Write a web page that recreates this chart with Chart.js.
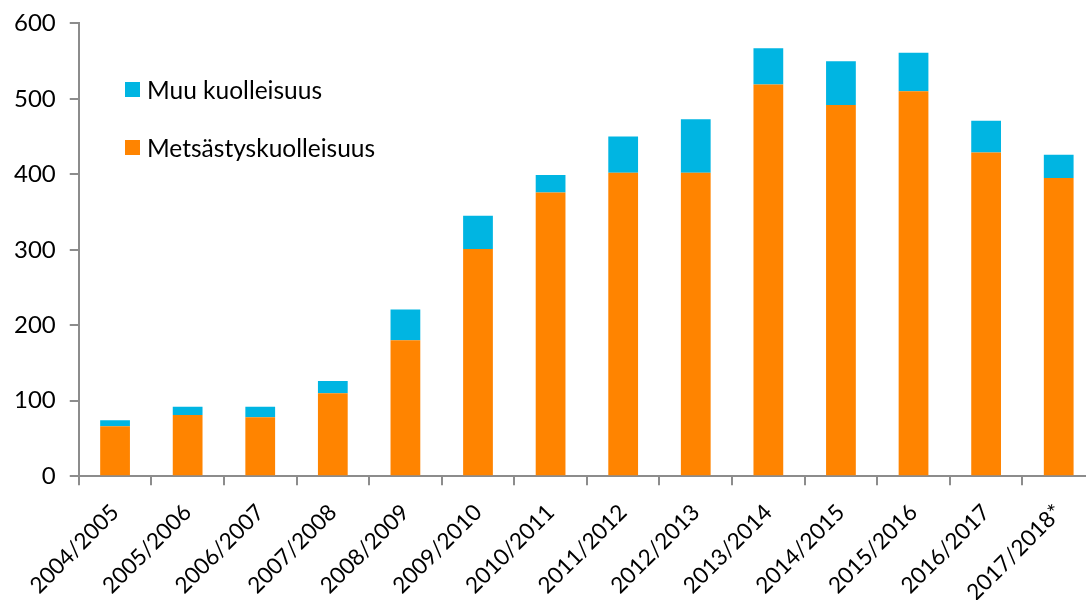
<!DOCTYPE html>
<html>
<head>
<meta charset="utf-8">
<script src="https://cdn.jsdelivr.net/npm/chart.js@4.4.1/dist/chart.umd.min.js"></script>
<style>
  html, body { margin: 0; padding: 0; background: #fff; overflow: hidden; width: 1086px; height: 600px; }
  #wrap { position: relative; top: -5px; width: 1100px; height: 625px; }
  #legend { position: absolute; left: 125px; top: 80px; font-family: Lato, "Open Sans", sans-serif; font-size: 24.5px; color: #000; }
  .item { display: flex; align-items: center; height: 29px; margin-bottom: 29px; }
  .sw { width: 15px; height: 15px; margin-right: 7px; }
</style>
</head>
<body>
<div id="wrap">
  <canvas id="c" width="1100" height="625"></canvas>
  <div id="legend"></div>
</div>
<script>
const categories = ["2004/2005","2005/2006","2006/2007","2007/2008","2008/2009","2009/2010","2010/2011","2011/2012","2012/2013","2013/2014","2014/2015","2015/2016","2016/2017","2017/2018*"];
const metsastys = [66, 81, 78, 110, 180, 301, 376, 402, 402, 519, 492, 510, 429, 395];
const totals = [74, 92, 92, 126, 221, 345, 399, 450, 473, 567, 550, 561, 471, 426];
const muu = totals.map((t, i) => t - metsastys[i]);
const yTicks = [0, 100, 200, 300, 400, 500, 600];

const ORANGE = "#FF8400";
const BLUE = "#00B5E2";
const AXIS = "#8c8c8c";
const FONT = "Lato, 'Open Sans', sans-serif";

const chart = new Chart(document.getElementById("c"), {
  type: "bar",
  data: {
    labels: categories,
    datasets: [
      { label: "Metsästyskuolleisuus", data: metsastys, backgroundColor: ORANGE, barPercentage: 0.41, categoryPercentage: 1 },
      { label: "Muu kuolleisuus", data: muu, backgroundColor: BLUE, barPercentage: 0.41, categoryPercentage: 1 }
    ]
  },
  options: {
    responsive: false,
    animation: false,
    devicePixelRatio: 1,
    layout: { padding: { left: 0, right: 5, top: 0, bottom: 0 } },
    plugins: { legend: { display: false }, tooltip: { enabled: false } },
    scales: {
      x: {
        stacked: true,
        grid: { display: true, drawOnChartArea: false, drawTicks: true, tickLength: 9, color: AXIS, lineWidth: 2, offset: true },
        border: { display: true, color: AXIS, width: 2 },
        ticks: { color: "#000", font: { family: FONT, size: 22.5 }, minRotation: 45, maxRotation: 45, padding: 14 }
      },
      y: {
        stacked: true,
        min: 0, max: 600,
        afterBuildTicks: (ax) => { ax.ticks = yTicks.map(v => ({ value: v })); },
        grid: { display: true, drawOnChartArea: false, drawTicks: true, tickLength: 9, color: AXIS, lineWidth: 2 },
        border: { display: true, color: AXIS, width: 2 },
        ticks: { color: "#000", font: { family: FONT, size: 24 }, padding: 14 }
      }
    }
  }
});

const legend = document.getElementById("legend");
[chart.data.datasets[1], chart.data.datasets[0]].forEach(ds => {
  const it = document.createElement("div");
  it.className = "item";
  const sw = document.createElement("div");
  sw.className = "sw";
  sw.style.background = ds.backgroundColor;
  const tx = document.createElement("span");
  tx.textContent = ds.label;
  it.appendChild(sw); it.appendChild(tx);
  legend.appendChild(it);
});
</script>
</body>
</html>
